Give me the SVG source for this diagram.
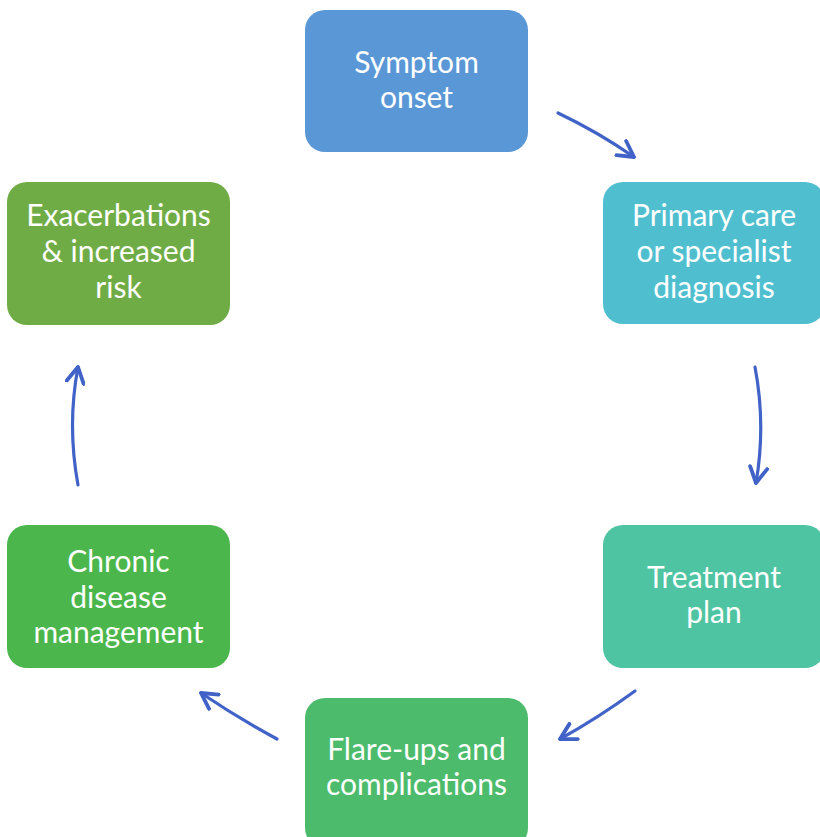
<svg xmlns="http://www.w3.org/2000/svg" width="820" height="837" viewBox="0 0 820 837">
<defs>
<style>
.box{stroke:none}
.t{font-family:Lato,"Open Sans","Liberation Sans",sans-serif;font-size:30px;fill:#ffffff;text-anchor:middle}
.c{fill:none;stroke:#4163c8;stroke-width:3.2;stroke-linecap:round}
</style>
<marker id="ah" viewBox="0 0 12 12" refX="10" refY="6" markerWidth="6.5" markerHeight="6.5" orient="auto" markerUnits="strokeWidth">
<path d="M1,1 L10,6 L1,11" fill="none" stroke="#4163c8" stroke-width="2.2" stroke-linecap="round" stroke-linejoin="round"/>
</marker>
</defs>
<rect width="820" height="837" fill="#ffffff"/>
<g id="n1"><rect class="box" x="305" y="10" width="223" height="142" rx="20" fill="#5a97d6"/>
<text class="t" x="416.5" y="73">Symptom</text><text class="t" x="416.5" y="108">onset</text></g>
<g id="n2"><rect class="box" x="603" y="182" width="222" height="142" rx="20" fill="#4fbfd0"/>
<text class="t" x="714" y="226">Primary care</text><text class="t" x="714" y="262">or specialist</text><text class="t" x="714" y="298">diagnosis</text></g>
<g id="n3"><rect class="box" x="603" y="525" width="222" height="143" rx="20" fill="#4ec4a2"/>
<text class="t" x="714" y="588">Treatment</text><text class="t" x="714" y="623">plan</text></g>
<g id="n4"><rect class="box" x="305" y="698" width="223" height="150" rx="20" fill="#4cbb6c"/>
<text class="t" x="416.5" y="760">Flare-ups and</text><text class="t" x="416.5" y="795">complications</text></g>
<g id="n5"><rect class="box" x="7" y="525" width="223" height="143" rx="20" fill="#4bb64b"/>
<text class="t" x="118.5" y="572">Chronic</text><text class="t" x="118.5" y="608">disease</text><text class="t" x="118.5" y="643">management</text></g>
<g id="n6"><rect class="box" x="7" y="182" width="223" height="143" rx="20" fill="#70ac45"/>
<text class="t" x="118.5" y="226">Exacerbations</text><text class="t" x="118.5" y="262">&amp; increased</text><text class="t" x="118.5" y="298">risk</text></g>
<g id="connectors">
<path class="c" d="M558,113 Q598,132 634,157" marker-end="url(#ah)"/>
<path class="c" d="M755,367 Q766,425 756,483" marker-end="url(#ah)"/>
<path class="c" d="M635,691 Q598,718 560,739" marker-end="url(#ah)"/>
<path class="c" d="M277,739 Q238,718 201,693" marker-end="url(#ah)"/>
<path class="c" d="M78,485 Q67,425 78,367" marker-end="url(#ah)"/>
</g>
</svg>
